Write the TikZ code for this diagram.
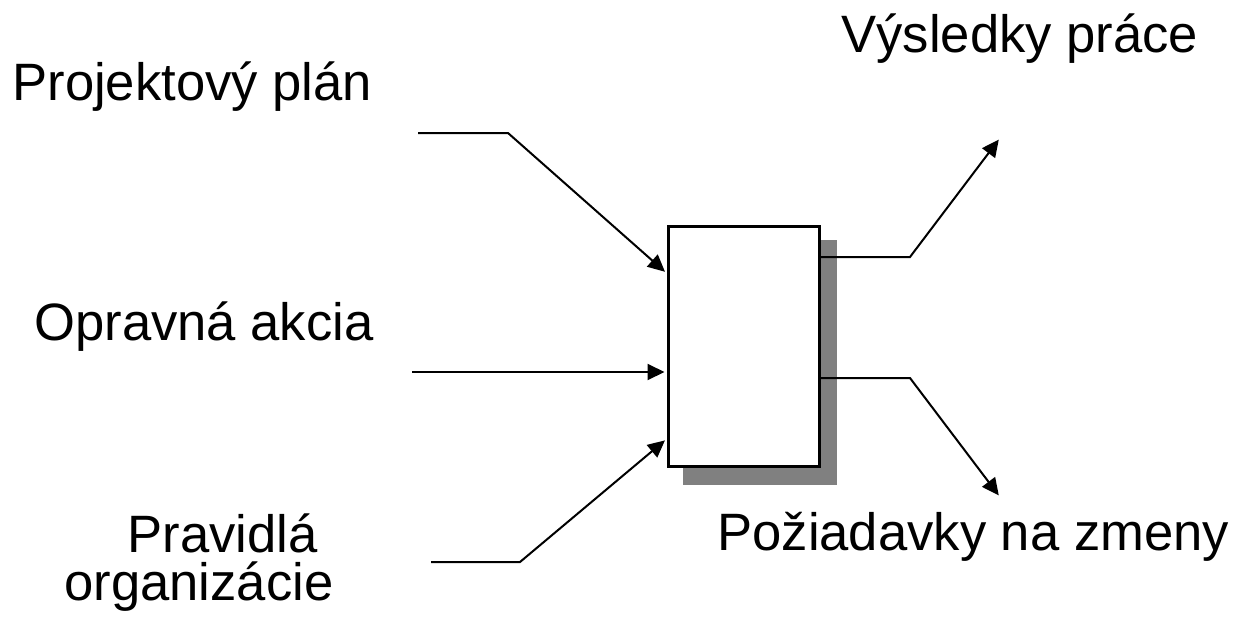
\documentclass[tikz,border=0pt]{standalone}
\usepackage{fontspec}
\setmainfont{Liberation Sans}
\usetikzlibrary{arrows.meta,shadows,calc}

\begin{document}
\begin{tikzpicture}[x=0.5pt, y=-0.5pt,
        lbl/.style={anchor=base west, inner sep=0pt, font=\fontsize{26.3}{24}\selectfont},
        tok/.style={line width=1pt, -{Triangle[length=8.5pt,width=8pt]}, shorten >=1pt}]
        \useasboundingbox (0,0) rectangle (1243,627);

        \node[draw, line width=1.5pt, fill=white, minimum width=75.5pt, minimum height=120pt, inner sep=0pt,
            drop shadow={shadow xshift=8.25pt, shadow yshift=-8pt, shadow scale=1.02, fill=gray, opacity=1}] (proc) at (743.5,346) {};

        \node[lbl] (plan) at (12,100) {Projektový plán};
        \node[lbl] (akcia) at (34,340) {Opravná akcia};
        \node[lbl] (prav) at (127,552) {Pravidlá};
        \node[lbl] (org) at (64,600) {organizácie};
        \node[lbl] (vysl) at (841,52) {Výsledky práce};
        \node[lbl] (zmeny) at (717,550) {Požiadavky na zmeny};

        \coordinate (planS) at (418,133);
        \coordinate (planK) at (508,133);
        \coordinate (akciaS) at (412,372);
        \coordinate (pravS) at (431,562);
        \coordinate (pravK) at (520,562);
        \coordinate (vyslK) at (910,257);
        \coordinate (vyslT) at (1000,138);
        \coordinate (zmenyK) at (910,378);
        \coordinate (zmenyT) at (1000,497);

        \draw[tok] (planS) -- (planK) -- ($(proc.north west)!0.2!(proc.south west)$);
        \draw[tok] (akciaS) -- (akciaS -| proc.west);
        \draw[tok] (pravS) -- (pravK) -- ($(proc.north west)!0.883!(proc.south west)$);

        \draw[tok] (proc.east |- vyslK) -- (vyslK) -- (vyslT);
        \draw[tok] (proc.east |- zmenyK) -- (zmenyK) -- (zmenyT);
    \end{tikzpicture}
\end{document}
